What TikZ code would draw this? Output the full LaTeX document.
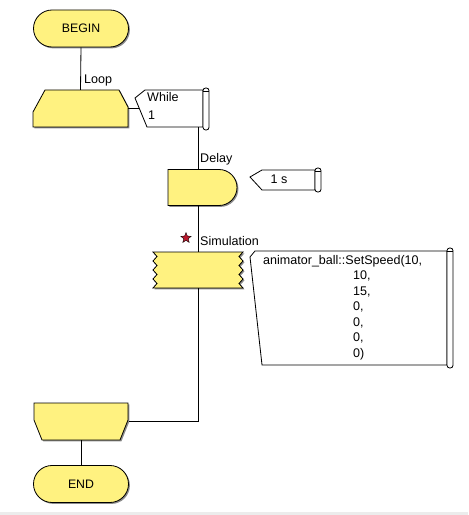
\documentclass[tikz,border=0pt]{standalone}
\usepackage{fontspec}
\setmainfont{Liberation Sans}
\usepackage{xcolor}
\definecolor{flowyellow}{RGB}{255,242,128}
\definecolor{flowshadow}{RGB}{140,140,140}
\definecolor{stardark}{RGB}{185,25,45}
\definecolor{bandgray}{RGB}{236,236,236}
\usepackage{tikz}
\usetikzlibrary{positioning,shapes.geometric,shapes.misc,shadows,calc}
\newcommand{\pxu}{0.03cm}
\newcommand{\scrollbar}[4]{%
  \draw[flowline,fill=white,rounded corners=0.08cm] (#1,#2) rectangle (#3,#4);
  \draw[flowline] (#1,{#2+3}) -- (#3,{#2+3});}
\newcommand{\shadedshape}[1]{%
  \fill[flowshadow,shift={(1.4,1.4)}] #1;
  \filldraw[flowline,fill=flowyellow] #1;}
\tikzset{
  flowline/.style={draw=black,line width=0.7pt},
  flowbox/.style={flowline,fill=flowyellow,inner sep=0pt,
    drop shadow={shadow xshift=1.2pt,shadow yshift=-1.2pt,fill=flowshadow,opacity=1}},
  termbox/.style={flowbox,rounded rectangle,minimum width=95*\pxu,minimum height=37*\pxu,
    font=\fontsize{10.5}{12}\selectfont},
  hiddenbox/.style={inner sep=0pt,minimum width=95*\pxu,minimum height=37*\pxu},
  flowlabel/.style={font=\fontsize{10.7}{12}\selectfont,inner sep=0pt},
}
\begin{document}
\begin{tikzpicture}[x=0.03cm,y=-0.03cm]
  \path[fill=white] (0,0) rectangle (468,515);
  \fill[bandgray] (0,512) rectangle (468,515);
  % main column
  \node[termbox] (begin) at (81,28.5) {BEGIN};
  \node[hiddenbox] (loopstart) at (80.5,108.5) {};
  \shadedshape{(45,90) -- (119,90) -- (128,107) -- (128,127) -- (33,127) -- (33,112) -- cycle}
  \node[flowbox,rounded rectangle,rounded rectangle left arc=none,
    minimum width=69*\pxu,minimum height=36*\pxu] (delay) at (202.5,187.5) {};
  \node[hiddenbox,minimum width=90*\pxu,minimum height=36*\pxu] (sim) at (198,270) {};
  \shadedshape{(153,252) -- (243,252)
    \foreach \k in {1,...,8}{ -- ({243-4*mod(\k,2)},{252+4.5*\k})} -- (153,288)
    \foreach \k in {1,...,8}{ -- ({153+4*mod(\k,2)},{288-4.5*\k})} -- cycle}
  \node[hiddenbox] (loopend) at (81,421.5) {};
  \shadedshape{(34,403) -- (128,403) -- (128,420) -- (120,440) -- (42,440) -- (34,420) -- cycle}
  \node[termbox] (end) at (81,484) {END};
  \node[star,star points=5,star point ratio=2.3,fill=stardark,draw=black,line width=0.3pt,
    minimum size=11*\pxu,inner sep=0pt] (simstar) at (186,238) {};
  % labels
  \node[flowlabel,anchor=west] (looplabel) at (84,80) {Loop};
  \node[flowlabel,anchor=west] (delaylabel) at (200,159) {Delay};
  \node[flowlabel,anchor=west] (simlabel) at (200,241) {Simulation};
  % parameter flags
  \draw[flowline,fill=white] (145,90) -- (203,90) -- (203,127) -- (147,127) -- (135,98) -- cycle;
  \scrollbar{203}{88}{209}{130}
  \node[flowlabel,anchor=base west] (whilekey) at (147,102) {While};
  \node[flowlabel,anchor=base west] (whileval) at (148,120) {1};
  \coordinate (whileedge) at (139.3,108.5);
  \coordinate (whilebottom) at (198,127);
  \draw[flowline,fill=white] (262,170) -- (315,170) -- (315,190) -- (262,190) -- (250,177) -- cycle;
  \scrollbar{315}{168}{321}{192}
  \node[flowlabel] (delaytime) at (279,179.5) {1 s};
  \draw[flowline,fill=white] (255,251) -- (447,251) -- (447,365) -- (262,365) -- (250,257) -- cycle;
  \scrollbar{447}{248}{453}{368}
  \node[flowlabel,anchor=base west] (speedhead) at (263,264) {animator\_ball::SetSpeed(10,};
  \foreach \v [count=\i] in {{10,},{15,},{0,},{0,},{0,},{0)}}
    \node[flowlabel,anchor=base west] (speedarg\i) at (353,{264+15.5*\i}) {\v};
  % connectors
  \draw[flowline] (begin.south) -- (loopstart.north);
  \draw[flowline] (loopstart.east) -- (whileedge);
  \draw[flowline] (whilebottom) -- (whilebottom |- delay.north);
  \draw[flowline] (delay.south -| sim.north) -- (sim.north);
  \draw[flowline] (sim.south) |- (loopend.east);
  \draw[flowline] (loopend.south) -- (end.north);
\end{tikzpicture}
\end{document}
